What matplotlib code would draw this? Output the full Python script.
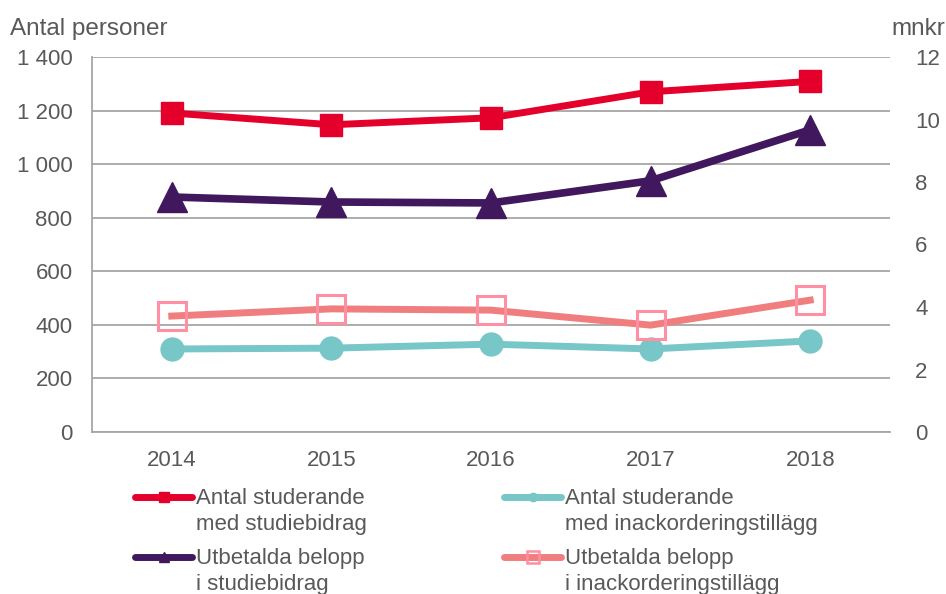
import matplotlib
matplotlib.use("Agg")
import matplotlib.pyplot as plt
from matplotlib.lines import Line2D
from matplotlib.ticker import FuncFormatter, FixedLocator

plt.rcParams['font.family'] = ['Liberation Sans', 'DejaVu Sans']

years = ["2014", "2015", "2016", "2017", "2018"]
antal_studiebidrag = [1191, 1147, 1173, 1270, 1309]
antal_inack = [310, 313, 328, 310, 340]
belopp_studiebidrag = [7.52, 7.36, 7.33, 8.04, 9.67]
belopp_inack = [3.71, 3.94, 3.90, 3.42, 4.22]

labels = ["Antal studerande\nmed studiebidrag",
          "Utbetalda belopp\ni studiebidrag",
          "Antal studerande\nmed inackorderingstillägg",
          "Utbetalda belopp\ni inackorderingstillägg"]

left_ticks = [0, 200, 400, 600, 800, 1000, 1200, 1400]
right_ticks = [0, 2, 4, 6, 8, 10, 12]

RED = "#E4002B"
PURPLE = "#41185E"
TEAL = "#77C6C8"
PINK_LINE = "#F07E7E"
PINK_MARK = "#FF8FA3"
TXT = "#595959"
GRID = "#A6A6A6"
FS = 16

W, H = 946, 594
fig = plt.figure(figsize=(W / 100, H / 100), dpi=100)
ax = fig.add_axes([92 / W, 1 - 432 / H, 798 / W, 375 / H])
ax2 = ax.twinx()

x = list(range(len(years)))

ax.set_ylim(0, 1400)
ax.set_xlim(-0.5, len(years) - 0.5)
ax2.set_ylim(0, 12)
ax.yaxis.set_major_locator(FixedLocator(left_ticks))
ax2.yaxis.set_major_locator(FixedLocator(right_ticks))
ax.yaxis.set_major_formatter(FuncFormatter(lambda v, p: f"{int(v):,}".replace(",", " ")))
ax2.yaxis.set_major_formatter(FuncFormatter(lambda v, p: f"{int(v)}"))
ax.set_xticks(x)
ax.set_xticklabels(years)

ax.grid(axis='y', color=GRID, linewidth=1.3)
ax.set_axisbelow(True)
for a in (ax, ax2):
    for s in ['top', 'right', 'left', 'bottom']:
        a.spines[s].set_visible(False)
for s in ['left', 'bottom']:
    ax.spines[s].set_visible(True)
    ax.spines[s].set_color(GRID)
    ax.spines[s].set_linewidth(1.3)

ax.tick_params(axis='y', length=0, labelsize=FS, labelcolor=TXT, pad=14)
ax.tick_params(axis='x', length=0, labelsize=FS, labelcolor=TXT, pad=13)
ax2.tick_params(axis='y', length=0, labelsize=FS, labelcolor=TXT, pad=18)

h1, = ax.plot(x, antal_studiebidrag, color=RED, linewidth=5, marker='s',
              markersize=16.5, markerfacecolor=RED, markeredgecolor=RED, zorder=5)
h3, = ax.plot(x, antal_inack, color=TEAL, linewidth=5, marker='o',
              markersize=16.5, markerfacecolor=TEAL, markeredgecolor=TEAL, zorder=5)
h2, = ax2.plot(x, belopp_studiebidrag, color=PURPLE, linewidth=5.5, marker='^',
               markersize=22, markerfacecolor=PURPLE, markeredgecolor=PURPLE, zorder=5)
h4, = ax2.plot(x, belopp_inack, color=PINK_LINE, linewidth=5, marker='s',
               markersize=19.5, markerfacecolor='none', markeredgecolor=PINK_MARK,
               markeredgewidth=2.2, zorder=5)

fig.text(10 / W, 1 - 35 / H, "Antal personer", fontsize=17.5, color=TXT,
         ha='left', va='baseline')
fig.text(945 / W, 1 - 35 / H, "mnkr", fontsize=17.5, color=TXT,
         ha='right', va='baseline')

# Legend (manual, handle aligned with the first line of each label)
legend_specs = [
    (h1, labels[0], 135, 497, dict(marker='s', markersize=7)),
    (h2, labels[1], 135, 557, dict(marker='^', markersize=7)),
    (h3, labels[2], 504, 497, dict(marker='o', markersize=6)),
    (h4, labels[3], 504, 557, dict(marker='s', markersize=9, markerfacecolor='none',
                                   markeredgewidth=1.8)),
]
for h, lab, px, py, mk in legend_specs:
    yy = 1 - py / H
    ln_line = Line2D([px / W, (px + 57) / W], [yy, yy], transform=fig.transFigure,
                     color=h.get_color(), linewidth=5, solid_capstyle='round')
    fig.add_artist(ln_line)
    mk_line = Line2D([(px + 28.5) / W], [yy], transform=fig.transFigure,
                     linestyle='none', marker=mk['marker'],
                     markersize=mk['markersize'],
                     markerfacecolor=mk.get('markerfacecolor', h.get_markerfacecolor()),
                     markeredgecolor=h.get_markeredgecolor(),
                     markeredgewidth=mk.get('markeredgewidth', 1.0))
    fig.add_artist(mk_line)
    fig.text((px + 61) / W, yy + 9 / H, lab, fontsize=FS, color=TXT, ha='left',
             va='top', linespacing=1.3)

fig.savefig("out.png", dpi=100)
